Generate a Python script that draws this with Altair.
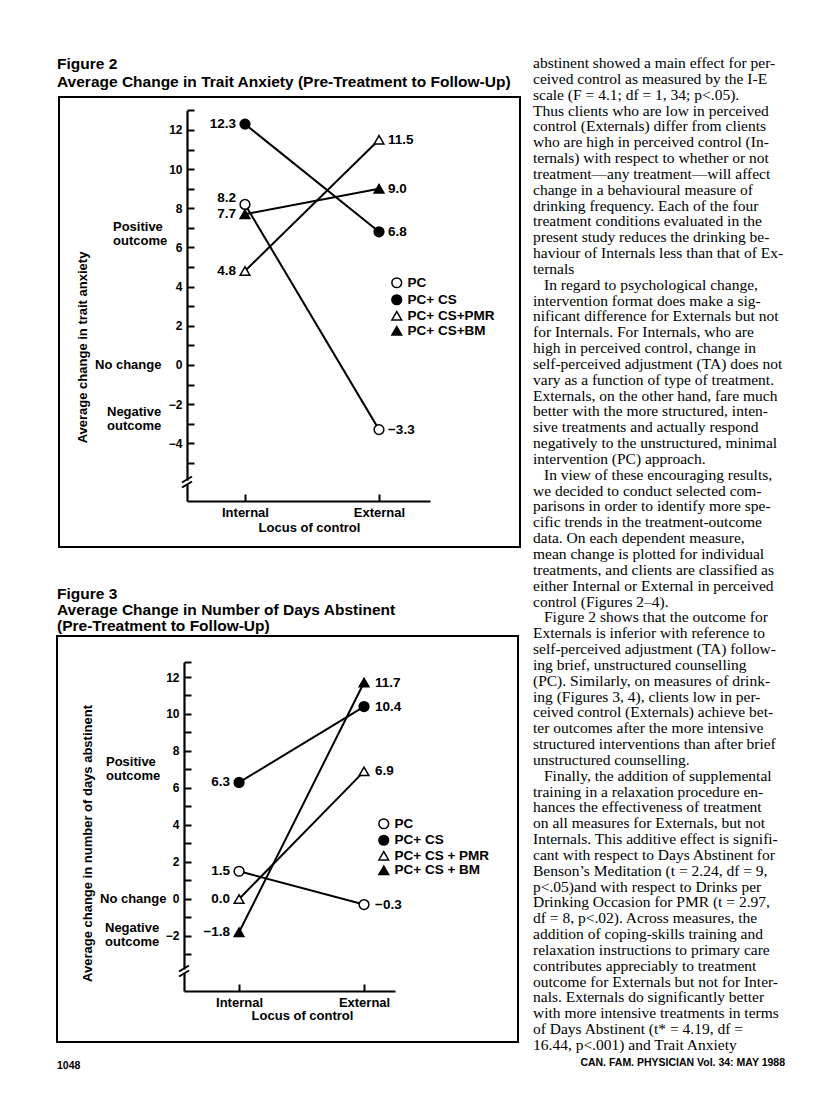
import altair as alt
import pandas as pd

W, H = 800, 1096
SANS = "Liberation Sans"
SERIF = "Liberation Serif"

# ---------------- data ----------------
locus = ["Internal", "External"]
fig2_names = ["PC", "PC+ CS", "PC+ CS+PMR", "PC+ CS+BM"]
fig3_names = ["PC", "PC+ CS", "PC+ CS + PMR", "PC+ CS + BM"]
fig2_internal = [8.2, 12.3, 4.8, 7.7]
fig2_external = [-3.3, 6.8, 11.5, 9.0]
fig3_internal = [1.5, 6.3, 0.0, -1.8]
fig3_external = [-0.3, 10.4, 6.9, 11.7]
marker_shapes = ["circle", "circle", "triangle-up", "triangle-up"]
marker_fills = ["white", "black", "white", "black"]
marker_strokes = ["black", "black", "black", "black"]
fig2_ticks = list(range(-5, 14))
fig3_ticks = list(range(-3, 13)) + [12.8]
outcome_text = ["Positive\noutcome", "No change", "Negative\noutcome"]
fig2_outcome_at = [6.7, 0.0, -2.75]
fig3_outcome_at = [7.0, 0.0, -1.97]

body_lines = [
    "abstinent showed a main effect for per-",
    "ceived control as measured by the I-E",
    "scale (F = 4.1; df = 1, 34; p<.05).",
    "Thus clients who are low in perceived",
    "control (Externals) differ from clients",
    "who are high in perceived control (In-",
    "ternals) with respect to whether or not",
    "treatment\u2014any treatment\u2014will affect",
    "change in a behavioural measure of",
    "drinking frequency. Each of the four",
    "treatment conditions evaluated in the",
    "present study reduces the drinking be-",
    "haviour of Internals less than that of Ex-",
    "ternals",
    "In regard to psychological change,",
    "intervention format does make a sig-",
    "nificant difference for Externals but not",
    "for Internals. For Internals, who are",
    "high in perceived control, change in",
    "self-perceived adjustment (TA) does not",
    "vary as a function of type of treatment.",
    "Externals, on the other hand, fare much",
    "better with the more structured, inten-",
    "sive treatments and actually respond",
    "negatively to the unstructured, minimal",
    "intervention (PC) approach.",
    "In view of these encouraging results,",
    "we decided to conduct selected com-",
    "parisons in order to identify more spe-",
    "cific trends in the treatment-outcome",
    "data. On each dependent measure,",
    "mean change is plotted for individual",
    "treatments, and clients are classified as",
    "either Internal or External in perceived",
    "control (Figures 2\u20134).",
    "Figure 2 shows that the outcome for",
    "Externals is inferior with reference to",
    "self-perceived adjustment (TA) follow-",
    "ing brief, unstructured counselling",
    "(PC). Similarly, on measures of drink-",
    "ing (Figures 3, 4), clients low in per-",
    "ceived control (Externals) achieve bet-",
    "ter outcomes after the more intensive",
    "structured interventions than after brief",
    "unstructured counselling.",
    "Finally, the addition of supplemental",
    "training in a relaxation procedure en-",
    "hances the effectiveness of treatment",
    "on all measures for Externals, but not",
    "Internals. This additive effect is signifi-",
    "cant with respect to Days Abstinent for",
    "Benson\u2019s Meditation (t = 2.24, df = 9,",
    "p<.05)and with respect to Drinks per",
    "Drinking Occasion for PMR (t = 2.97,",
    "df = 8, p<.02). Across measures, the",
    "addition of coping-skills training and",
    "relaxation instructions to primary care",
    "contributes appreciably to treatment",
    "outcome for Externals but not for Inter-",
    "nals. Externals do significantly better",
    "with more intensive treatments in terms",
    "of Days Abstinent (t* = 4.19, df =",
    "16.44, p<.001) and Trait Anxiety",
]
paragraph_starts = [14, 26, 35, 45]


def long_df(names, internal, external):
    rows = []
    for n, a, b in zip(names, internal, external):
        rows.append({"series": n, "locus": "Internal", "value": a})
        rows.append({"series": n, "locus": "External", "value": b})
    return pd.DataFrame(rows)


one = pd.DataFrame({"k": [0]})


def figure(df, names, outcome_at, g):
    xs = alt.Scale(type="point", domain=locus, range=g["xrange"],
                   padding=g["xpad"], align=g["xalign"])
    ys = alt.Scale(domain=g["ydomain"], range=g["yrange"], nice=False, zero=False)
    xaxis = alt.Axis(
        orient="top", offset=-g["axis_y"], title="Locus of control",
        titleX=g["xtitle_x"], titleY=g["xtitle_dy"], titleBaseline="middle",
        titleAlign="center", titleFont=SANS, titleFontSize=13, titleFontWeight="bold",
        titleColor="black", labelFont=SANS, labelFontSize=13, labelFontWeight="bold",
        labelColor="black", labelBaseline="top", labelPadding=-12, labelAngle=0,
        tickSize=7, tickWidth=2, tickColor="black", domainColor="black",
        domainWidth=2.2, grid=False)
    yaxis = alt.Axis(
        orient="right", offset=g["axis_x"] - W, values=g["ticks"], format="d",
        labelExpr="datum.value % 2 == 0 ? datum.label : ''",
        labelAlign="right", labelBaseline="middle", labelPadding=-12,
        labelOverlap=False, labelFont=SANS, labelFontSize=12, labelFontWeight="bold",
        labelColor="black", tickSize=7, tickWidth=2, tickColor="black",
        domainColor="black", domainWidth=2.2, grid=False,
        title=g["ytitle"], titleAngle=270, titleX=g["ytitle_dx"], titleY=g["ytitle_y"],
        titleAlign="center", titleBaseline="middle", titleFont=SANS, titleFontSize=13,
        titleFontWeight="bold", titleColor="black")
    X = alt.X("locus:N", scale=xs, axis=xaxis)
    Y = alt.Y("value:Q", scale=ys, axis=yaxis)

    base = alt.Chart(df)
    lines = base.mark_line(color="black", strokeWidth=2).encode(x=X, y=Y, detail="series:N")
    leg = alt.Legend(orient="none", legendX=g["leg_x"], legendY=g["leg_y"], title=None,
                     symbolSize=95, symbolStrokeWidth=1.5,
                     labelFont=SANS, labelFontSize=13.5, labelFontWeight="bold",
                     labelColor="black", rowPadding=g["leg_row"], labelOffset=4, padding=0)
    points = base.mark_point(filled=True, strokeWidth=1.5, size=95, opacity=1).encode(
        x=X, y=Y,
        shape=alt.Shape("series:N", scale=alt.Scale(domain=names, range=marker_shapes), legend=leg),
        fill=alt.Fill("series:N", scale=alt.Scale(domain=names, range=marker_fills), legend=leg),
        stroke=alt.Stroke("series:N", scale=alt.Scale(domain=names, range=marker_strokes), legend=leg),
    )
    txt = dict(font=SANS, fontSize=13.5, fontWeight="bold", color="black", baseline="middle")
    lab_int = base.transform_filter(
        (alt.datum.locus == "Internal") & (alt.datum.series != "PC")
    ).mark_text(align="right", dx=g["dx_in"], **txt).encode(
        x=X, y=Y, text=alt.Text("value:Q", format=".1f"))
    lab_int_pc = base.transform_filter(
        (alt.datum.locus == "Internal") & (alt.datum.series == "PC")
    ).mark_text(align="right", dx=g["dx_in"], dy=g["pc_dy"], **txt).encode(
        x=X, y=Y, text=alt.Text("value:Q", format=".1f"))
    lab_ext = base.transform_filter(alt.datum.locus == "External").mark_text(
        align="left", dx=g["dx_out"], **txt).encode(
        x=X, y=Y, text=alt.Text("value:Q", format=".1f"))

    layers = [lines, points, lab_int, lab_int_pc, lab_ext]
    for t, v, xl in zip(outcome_text, outcome_at, g["outcome_left"]):
        odf = pd.DataFrame({"value": [v], "t": [t]})
        shift = -7 if "\n" in t else 0
        layers.append(
            alt.Chart(odf).mark_text(align="left", baseline="middle", lineBreak="\n",
                                     lineHeight=14, dy=shift, font=SANS, fontSize=13,
                                     fontWeight="bold", color="black").encode(
                x=alt.value(xl), y=Y, text="t:N"))
    return alt.layer(*layers)


fig2_geom = dict(
    xrange=[179, 422], xpad=0.4067, xalign=0.532,
    ydomain=[-6.945, 13], yrange=[493, 102.4],
    axis_x=179, axis_y=493, ticks=fig2_ticks,
    ytitle="Average  change in trait anxiety", ytitle_dx=-105, ytitle_y=339,
    xtitle_x=301, xtitle_dy=26,
    leg_x=382, leg_y=268, leg_row=0,
    dx_in=-9, dx_out=9, pc_dy=-6,
    outcome_left=[105, 87, 99],
)
fig3_geom = dict(
    xrange=[176, 387], xpad=0.344, xalign=0.64,
    ydomain=[-4.973, 12.8], yrange=[983, 654.2],
    axis_x=176, axis_y=983, ticks=fig3_ticks,
    ytitle="Average change in number of days abstinent", ytitle_dx=-97, ytitle_y=835,
    xtitle_x=294, xtitle_dy=24,
    leg_x=369, leg_y=809, leg_row=-0.5,
    dx_in=-9, dx_out=11, pc_dy=0,
    outcome_left=[98, 92, 97],
)

fig2 = figure(long_df(fig2_names, fig2_internal, fig2_external), fig2_names, fig2_outcome_at, fig2_geom)
fig3 = figure(long_df(fig3_names, fig3_internal, fig3_external), fig3_names, fig3_outcome_at, fig3_geom)

# ---------------- body text column ----------------
body_df = pd.DataFrame({
    "line": list(range(len(body_lines))),
    "text": body_lines,
    "indent": [1 if i in paragraph_starts else 0 for i in range(len(body_lines))],
})
body = alt.Chart(body_df).mark_text(align="left", baseline="middle", font=SERIF,
                                    fontSize=15.5, color="black").encode(
    x=alt.X("indent:Q", scale=alt.Scale(domain=[0, 1], range=[525, 536]), axis=None),
    y=alt.Y("line:Q", scale=alt.Scale(domain=[0, len(body_lines) - 1], range=[55, 1037]), axis=None),
    text="text:N",
)

# ---------------- page decoration (boxes, headings, axis breaks, footer) ----------------
deco = []


def text_at(s, x, y, size, weight="bold", align="left", font=SANS):
    return alt.Chart(one).mark_text(align=align, baseline="middle", font=font, fontSize=size,
                                    fontWeight=weight, color="black").encode(
        x=alt.value(x), y=alt.value(y), text=alt.value(s))


def box(x1, y1, x2, y2):
    return alt.Chart(one).mark_rect(fillOpacity=0, stroke="black", strokeWidth=2).encode(
        x=alt.value(x1), x2=alt.value(x2), y=alt.value(y1), y2=alt.value(y2))


def axis_break(ax, cy):
    out = [alt.Chart(one).mark_rect(color="white").encode(
        x=alt.value(ax - 2.5), x2=alt.value(ax + 2.5), y=alt.value(cy - 2), y2=alt.value(cy + 1.5))]
    for off in (0, 5):
        out.append(alt.Chart(one).mark_rule(color="black", strokeWidth=2).encode(
            x=alt.value(ax - 5), y=alt.value(cy + off),
            x2=alt.value(ax + 5), y2=alt.value(cy + off - 6)))
    return out


deco.append(text_at("Figure 2", 49, 56, 15.5))
deco.append(text_at("Average Change in Trait Anxiety (Pre-Treatment to Follow-Up)", 49, 74, 15.5))
deco.append(box(51, 89, 512, 539))
deco += axis_break(179, 474.5)

deco.append(text_at("Figure 3", 49, 586, 15.5))
deco.append(text_at("Average Change in Number of Days Abstinent", 49, 602, 15.5))
deco.append(text_at("(Pre-Treatment to Follow-Up)", 49, 618, 15.5))
deco.append(box(49, 628, 510, 1034))
deco += axis_break(176, 963.5)

deco.append(text_at("1048", 49, 1058, 10.5))
deco.append(text_at("CAN. FAM. PHYSICIAN Vol. 34: MAY 1988", 777, 1055, 10.5, align="right"))

chart = alt.layer(fig2, fig3, body, *deco).resolve_scale(
    x="independent", y="independent", shape="independent", fill="independent",
    stroke="independent",
).properties(
    width=W, height=H, autosize=alt.AutoSizeParams(type="none"), padding=0,
    background="white",
).configure_view(stroke=None)

chart.save("out.html", embed_options={"renderer": "svg", "actions": False})
